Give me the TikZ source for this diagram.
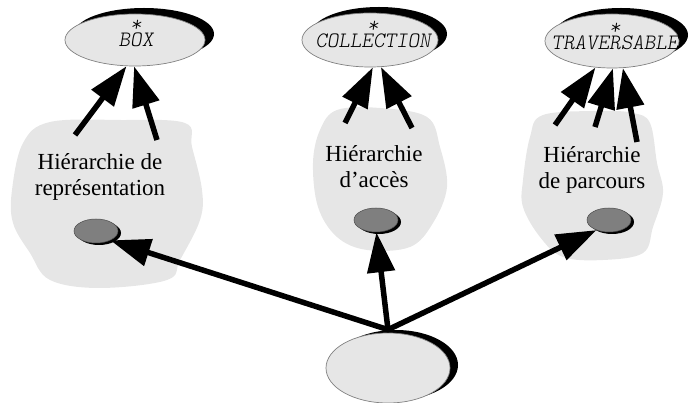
\documentclass[tikz,border=0pt]{standalone}
\usepackage{fontspec}
\setmainfont{Liberation Serif}
\usetikzlibrary{arrows.meta,shapes.geometric,shadows}
\definecolor{pale}{HTML}{E6E6E6}
\definecolor{rim}{HTML}{808080}
\definecolor{knob}{HTML}{7F7F7F}
\begin{document}
\begin{tikzpicture}[x=1pt,y=-1pt,
  blob/.style={fill=pale,draw=none},
  classbox/.style={ellipse,fill=pale,draw=rim,line width=0.7pt,inner sep=0pt},
  bigshadow/.style={drop shadow={shadow xshift=9pt,shadow yshift=6pt,fill=black,opacity=1}},
  objdot/.style={ellipse,fill=knob,draw=black!70,line width=0.5pt,
    minimum width=44pt,minimum height=24pt,inner sep=0pt,
    drop shadow={shadow xshift=3pt,shadow yshift=-2pt,fill=black,opacity=1}},
  arr/.style={line width=5.5pt,-{Triangle[length=40pt,width=27pt]}},
  hier/.style={font=\fontsize{23}{26}\selectfont,align=center,inner sep=0pt},
  typename/.style={font=\fontsize{22}{#1}\selectfont\ttfamily\fontseries{l}\slshape,
    align=center,inner sep=0pt,anchor=south},
  typename/.default=12pt,
]
\useasboundingbox (0,0) rectangle (689,403);

% grey regions grouping each hierarchy
\fill[blob] plot[smooth cycle,tension=0.6] coordinates {(50,122) (120,120) (185,123) (192,147) (202,190) (200,220) (180,260) (167,280) (100,288) (50,280) (30,253) (13,223) (12,190) (23,143)};
\fill[blob] plot[smooth cycle,tension=0.6] coordinates {(337,110) (380,108) (427,117) (440,147) (447,187) (433,223) (410,247) (367,250) (337,237) (318,207) (313,163) (320,130)};
\fill[blob] plot[smooth cycle,tension=0.6] coordinates {(600,111) (633,113) (650,123) (657,163) (663,193) (653,227) (643,253) (603,260) (563,257) (540,237) (523,207) (523,180) (530,137) (543,115)};

% deferred classes
\node[classbox,bigshadow,minimum width=140pt,minimum height=52pt] (box) at (135,40) {};
\node[classbox,bigshadow,minimum width=136pt,minimum height=54pt] (coll) at (370,40) {};
\node[classbox,bigshadow,minimum width=134pt,minimum height=54pt] (trav) at (612,41) {};

\node[typename] (boxname) at (136,47) {*\\BOX};
\node[typename=10pt] (collname) at (373,48) {*\\COLLECTION};
\node[typename] (travname) at (615,50) {*\\TRAVERSABLE};

% hierarchy labels
\node[hier] (repr) at (100,176.5) {Hiérarchie de\\représentation};
\node[hier] (acces) at (374,167) {Hiérarchie\\d’accès};
\node[hier] (parc) at (592,169.5) {Hiérarchie\\de parcours};

% objects inside the hierarchies
\node[objdot] (d1) at (96,231) {};
\node[objdot] (d2) at (376,220) {};
\node[objdot] (d3) at (609,220) {};

% client object
\node[classbox,minimum width=124pt,minimum height=70pt,
  drop shadow={shadow xshift=8pt,shadow yshift=3pt,fill=black,opacity=1}] (client) at (388,368) {};
\coordinate (hub) at ([yshift=3pt]client.north);

% inheritance arrows
\coordinate (t1) at (75,135);
\coordinate (t2) at (157,140);
\coordinate (t3) at (345,123);
\coordinate (t4) at (412,128);
\coordinate (t5) at (555,125);
\coordinate (t6) at (595,127);
\coordinate (t7) at (637,142);
\draw[arr] (t1) -- (box.-108);
\draw[arr] (t2) -- (box.-92);
\draw[arr] (t3) -- (coll.-84);
\draw[arr] (t4) -- (coll.-68);
\draw[arr] (t5) -- (trav.-122);
\draw[arr] (t6) -- (trav.-88);
\draw[arr] (t7) -- (trav.-68);

% client references
\draw[arr,line cap=round] (hub) -- (d1.-33);
\draw[arr,line cap=round] (hub) -- (d2.-88);
\draw[arr,line cap=round] (hub) -- (d3.-141);
\end{tikzpicture}
\end{document}
